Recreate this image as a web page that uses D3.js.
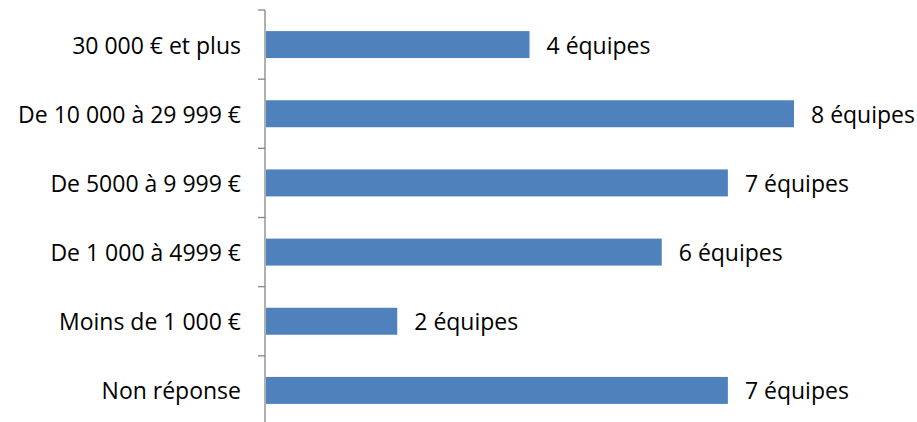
<!DOCTYPE html>
<html><head><meta charset="utf-8">
<script src="https://cdn.jsdelivr.net/npm/d3@7"></script>
<style>body{margin:0;background:#fff}svg{display:block}</style>
</head><body>
<svg id="c" width="917" height="422"></svg>
<script>
const categories = ["30 000 € et plus","De 10 000 à 29 999 €","De 5000 à 9 999 €","De 1 000 à 4999 €","Moins de 1 000 €","Non réponse"];
const values = [4, 8, 7, 6, 2, 7];
const labels = ["4 équipes","8 équipes","7 équipes","6 équipes","2 équipes","7 équipes"];

const svg = d3.select("#c");
const font = "'Open Sans', sans-serif";
const fs = 23;
const y = d3.scaleBand().domain(categories).range([10, 425]).paddingInner(0.61).paddingOuter(0.305);
const x = d3.scaleLinear().domain([0, 8]).range([265, 794]);

svg.selectAll("rect.bar").data(categories).join("rect")
  .attr("class","bar")
  .attr("x", x(0)+1)
  .attr("y", d => y(d))
  .attr("width", (d,i) => x(values[i]) - x(0) - 1)
  .attr("height", y.bandwidth())
  .attr("fill", "#4F81BD");

const bounds = d3.range(categories.length + 1).map(i => 10 + i * (415 / categories.length));
svg.append("line").attr("x1", x(0)).attr("x2", x(0)).attr("y1", 10).attr("y2", 425)
  .attr("stroke", "#868686").attr("stroke-width", 1.3);
svg.selectAll("line.tick").data(bounds).join("line").attr("class","tick")
  .attr("x1", x(0) - 7).attr("x2", x(0)).attr("y1", d => d).attr("y2", d => d)
  .attr("stroke", "#868686").attr("stroke-width", 1.3);

svg.selectAll("text.cat").data(categories).join("text").attr("class","cat")
  .attr("x", x(0) - 24)
  .attr("y", d => y(d) + y.bandwidth()/2)
  .attr("text-anchor", "end")
  .attr("dominant-baseline", "central")
  .attr("font-family", font).attr("font-size", fs).attr("fill", "#000")
  .text(d => d);

svg.selectAll("text.val").data(categories).join("text").attr("class","val")
  .attr("x", (d,i) => x(values[i]) + 17)
  .attr("y", d => y(d) + y.bandwidth()/2)
  .attr("dominant-baseline", "central")
  .attr("font-family", font).attr("font-size", fs).attr("fill", "#000")
  .text((d,i) => labels[i]);
</script>
</body></html>
